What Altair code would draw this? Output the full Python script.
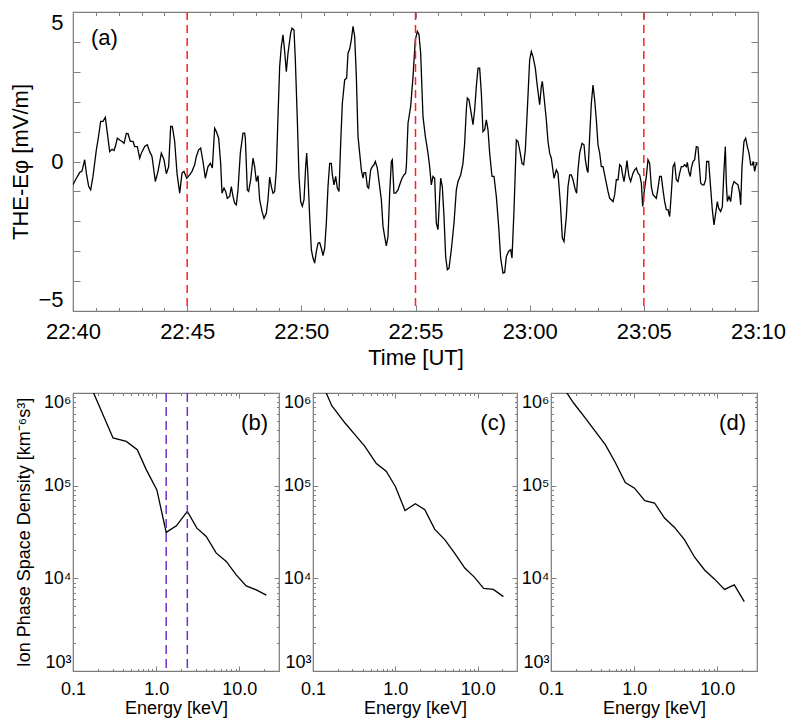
import json
import altair as alt
import pandas as pd

# ---------------- Panel (a): THE E-phi time series ----------------
# time in minutes after 22:40 UT
time_min = [
    0.000, 0.146, 0.292, 0.394, 0.511, 0.584, 0.686, 0.774, 0.876, 1.022, 1.095, 1.212, 1.314, 1.416, 1.504,
    1.606, 1.708, 1.796, 1.854, 1.942, 2.044, 2.146, 2.234, 2.336, 2.409, 2.511, 2.628, 2.701, 2.818, 2.920,
    2.993, 3.139, 3.255, 3.358, 3.460, 3.606, 3.723, 3.869, 3.985, 4.088, 4.190, 4.277, 4.350, 4.453, 4.555,
    4.672, 4.774, 4.861, 4.978, 5.109, 5.212, 5.328, 5.401, 5.504, 5.591, 5.693, 5.796, 5.912, 6.015, 6.102,
    6.204, 6.277, 6.380, 6.467, 6.526, 6.613, 6.686, 6.759, 6.861, 6.934, 7.007, 7.080, 7.153, 7.226, 7.328,
    7.445, 7.518, 7.547, 7.635, 7.693, 7.781, 7.883, 7.956, 8.029, 8.102, 8.175, 8.277, 8.365, 8.467, 8.540,
    8.613, 8.686, 8.759, 8.832, 8.905, 8.978, 9.051, 9.124, 9.197, 9.270, 9.343, 9.416, 9.533, 9.591, 9.679,
    9.737, 9.825, 9.898, 9.971, 10.044, 10.117, 10.190, 10.234, 10.292, 10.365, 10.438, 10.511, 10.584, 10.657,
    10.730, 10.803, 10.876, 10.949, 11.022, 11.095, 11.168, 11.241, 11.314, 11.358, 11.431, 11.504, 11.577,
    11.650, 11.723, 11.796, 11.898, 11.985, 12.044, 12.117, 12.190, 12.263, 12.336, 12.409, 12.482, 12.555,
    12.628, 12.701, 12.745, 12.818, 12.891, 12.949, 13.036, 13.109, 13.182, 13.241, 13.328, 13.431, 13.504,
    13.577, 13.650, 13.723, 13.796, 13.869, 13.942, 13.985, 14.058, 14.131, 14.234, 14.307, 14.409, 14.496,
    14.569, 14.599, 14.672, 14.788, 14.891, 14.993, 15.080, 15.153, 15.226, 15.328, 15.431, 15.547, 15.620,
    15.693, 15.766, 15.839, 15.912, 15.985, 16.058, 16.102, 16.175, 16.248, 16.321, 16.394, 16.467, 16.569,
    16.686, 16.788, 16.861, 16.978, 17.080, 17.153, 17.226, 17.270, 17.343, 17.416, 17.518, 17.591, 17.664,
    17.737, 17.810, 17.883, 17.956, 18.029, 18.102, 18.175, 18.248, 18.350, 18.438, 18.540, 18.642, 18.730,
    18.832, 18.905, 18.978, 19.080, 19.168, 19.226, 19.314, 19.416, 19.489, 19.562, 19.664, 19.737, 19.810,
    19.898, 20.000, 20.073, 20.146, 20.248, 20.336, 20.438, 20.511, 20.555, 20.628, 20.730, 20.803, 20.876,
    20.949, 21.066, 21.168, 21.241, 21.343, 21.431, 21.504, 21.606, 21.679, 21.752, 21.825, 21.898, 22.000,
    22.058, 22.117, 22.190, 22.292, 22.380, 22.438, 22.511, 22.555, 22.628, 22.701, 22.774, 22.847, 22.920,
    22.993, 23.066, 23.139, 23.212, 23.285, 23.358, 23.431, 23.504, 23.577, 23.650, 23.723, 23.796, 23.869,
    23.942, 24.015, 24.058, 24.131, 24.190, 24.263, 24.307, 24.350, 24.423, 24.526, 24.599, 24.672, 24.745,
    24.818, 24.891, 24.949, 25.007, 25.109, 25.182, 25.255, 25.328, 25.401, 25.474, 25.547, 25.620, 25.693,
    25.766, 25.839, 25.912, 25.985, 26.058, 26.131, 26.204, 26.277, 26.350, 26.423, 26.496, 26.569, 26.642,
    26.715, 26.788, 26.861, 26.905, 26.964, 27.036, 27.080, 27.153, 27.226, 27.299, 27.372, 27.416, 27.489,
    27.562, 27.635, 27.708, 27.752, 27.839, 27.927, 28.000, 28.073, 28.146, 28.219, 28.277, 28.365, 28.438,
    28.511, 28.569, 28.613, 28.657, 28.730, 28.803, 28.876, 28.949, 29.022, 29.124, 29.197, 29.241, 29.299,
    29.387, 29.460, 29.533, 29.606, 29.679, 29.752, 29.796, 29.854, 29.927, 29.971,
]
e_phi = [
    -0.78, -0.56, -0.37, -0.32, 0.06, -0.39, -0.83, -0.95, -0.50, 0.39, 0.72, 1.34, 1.34, 1.48, 0.95,
    0.33, 0.41, 0.37, 0.50, 0.78, 0.72, 0.67, 0.61, 0.94, 0.93, 0.67, 0.67, 0.50, 0.50, 0.11,
    0.28, 0.50, 0.56, 0.33, 0.17, -0.67, -0.33, 0.28, 0.06, -0.41, -0.17, 1.17, 1.17, 0.67, -0.39,
    -1.06, -0.39, -0.33, -0.56, -0.45, -0.33, -0.11, 0.17, 0.39, 0.45, 0.00, -0.56, -0.17, -0.06, -0.22,
    1.11, 1.00, 0.78, -0.06, -1.06, -0.89, -1.00, -1.23, -1.17, -0.84, -1.17, -1.39, -1.45, -0.95, 0.28,
    0.95, 0.95, 0.78, -0.95, -1.00, -0.61, 0.11, -0.17, -0.67, -0.47, -1.28, -1.67, -1.90, -1.73, -1.28,
    -0.52, -0.84, -1.06, -1.00, -0.28, 1.50, 3.18, 3.85, 4.24, 3.68, 3.00, 3.62, 4.29, 4.46, 4.40,
    3.40, 1.39, -0.50, -1.34, -1.50, -1.28, -0.17, 0.28, -0.50, -1.84, -2.95, -3.23, -3.40, -3.01,
    -2.73, -2.71, -2.90, -3.15, -2.90, -2.06, -0.84, -0.06, -0.06, -0.45, -0.78, -0.50, -0.89,
    -1.00, 0.61, 1.95, 2.73, 2.79, 3.62, 3.76, 4.07, 4.52, 4.18, 2.84, 0.84, 0.28,
    -0.28, -0.56, -0.37, -0.37, -0.84, -0.89, -0.28, -0.17, -0.11, 0.00, -0.22, -0.84, -1.28,
    -2.17, -2.51, -2.82, -2.51, -1.06, 0.00, 0.06, -1.06, -1.06, -0.95, -0.78, -0.56, -0.45,
    -0.39, -0.17, 1.28, 1.84, 2.84, 4.07, 4.35, 4.24, 3.62, 1.50, 0.84, 0.28, -0.17,
    -0.78, -0.50, -0.56, -2.06, -2.28, -1.17, -0.56, -0.84, -1.84, -3.18, -3.62, -3.57, -2.95,
    -2.06, -0.95, -0.67, -0.45, -0.06, 0.61, 1.73, 2.12, 2.06, 1.73, 1.23, 1.73, 2.51,
    3.12, 3.12, 2.29, 1.00, 1.06, 1.39, 1.06, 0.28, -0.50, -0.50, -1.17, -2.17, -3.23,
    -3.73, -3.71, -3.18, -3.00, -2.95, -3.23, -1.62, 0.72, 0.67, 0.39, -0.06, -0.11, 0.39,
    1.73, 3.40, 3.68, 3.51, 3.12, 2.51, 1.90, 2.51, 2.68, 2.17, 1.39, 0.67, 0.28,
    0.11, -0.56, -0.28, -0.39, -1.39, -2.56, -2.68, -1.84, -0.84, -0.45, -0.45, -0.61, -0.95,
    -1.06, -0.28, 0.28, 0.61, 0.56, 0.06, -0.28, -0.37, 0.84, 1.95, 2.56, 2.06, 1.39,
    0.56, 0.28, -0.17, -0.17, -0.45, -0.72, -1.00, -1.23, -1.28, -1.34, -1.11, -0.61, -0.61,
    -0.11, -0.17, -0.39, -0.67, -0.39, 0.03, -0.28, -0.50, -0.67, -0.39, -0.28, -0.22, -0.39,
    -0.45, -0.72, -1.50, -1.06, -0.50, 0.06, -0.06, -0.84, -1.11, -1.17, -1.23, -0.89, -0.50,
    -0.50, -0.95, -1.34, -1.61, -1.61, -1.84, -1.06, -0.17, -0.06, -0.61, -0.67, -0.39, -0.17,
    -0.17, -0.11, -0.17, -0.03, -0.33, -0.50, -0.22, 0.00, 0.06, 0.50, 0.48, 0.00, -0.72,
    -0.78, -0.78, -0.61, 0.00, 0.00, -0.89, -1.62, -2.12, -1.73, -1.34, -1.56, -1.67, -1.51,
    -0.28, 0.50, -0.72, -1.34, -1.17, -1.34, -0.84, -0.67, -0.72, -0.78, -1.06, -1.45, -0.17,
    0.67, 0.78, 0.50, 0.28, -0.11, -0.11, 0.00, -0.33, -0.06, -0.11,
]
event_min = [5, 15, 25]                       # red dashed markers (22:45, 22:55, 23:05)
time_tick_min = [0, 5, 10, 15, 20, 25, 30]
time_tick_labels = ["22:40", "22:45", "22:50", "22:55", "23:00", "23:05", "23:10"]
minute_ticks = list(range(0, 31))
ephi_ticks = list(range(-5, 6))

# ---------------- Panels (b)-(d): ion phase space density ----------------
energy_b = [0.137, 0.303, 0.437, 0.593, 0.760, 1.02, 1.32, 1.75, 2.37, 3.09, 4.00, 5.28, 6.97, 9.18, 12.1, 16.0, 21.1]
psd_b = [1.7e6, 3.27e5, 3.0e5, 2.44e5, 1.49e5, 9.0e4, 3.13e4, 3.69e4, 5.27e4, 3.48e4, 2.83e4, 1.87e4, 1.52e4, 1.09e4, 8.3e3, 7.5e3, 6.6e3]
markers_b = [1.32, 2.37]

energy_c = [0.130, 0.169, 0.245, 0.323, 0.426, 0.588, 0.774, 1.00, 1.31, 1.75, 2.28, 3.00, 4.00, 5.24, 6.97, 9.10, 11.8, 15.5, 20.5]
psd_c = [1.25e6, 7.3e5, 4.74e5, 3.55e5, 2.66e5, 1.73e5, 1.43e5, 9.8e4, 5.4e4, 6.37e4, 5.5e4, 3.4e4, 2.6e4, 1.87e4, 1.29e4, 1.03e4, 7.8e3, 7.6e3, 6.35e3]

energy_d = [0.140, 0.187, 0.259, 0.341, 0.450, 0.593, 0.782, 1.01, 1.34, 1.76, 2.32, 3.06, 4.04, 5.33, 7.03, 9.27, 12.2, 16.0, 21.1]
psd_d = [1.15e6, 7.8e5, 5.37e5, 3.86e5, 2.77e5, 1.78e5, 1.08e5, 9.4e4, 6.9e4, 6.5e4, 4.47e4, 3.54e4, 2.6e4, 1.69e4, 1.23e4, 9.8e3, 7.6e3, 8.5e3, 5.6e3]

energy_major = [0.1, 1, 10]
energy_minor = [0.2, 0.3, 0.4, 0.5, 0.6, 0.7, 0.8, 0.9, 2, 3, 4, 5, 6, 7, 8, 9, 20]
psd_major = [1e3, 1e4, 1e5, 1e6]
psd_minor = [m * d for d in (1e3, 1e4, 1e5) for m in range(2, 10)]
psd_tick_labels = ["10³", "10⁴", "10⁵", "10⁶"]

FONT = "Liberation Sans"
TICK = "#808080"
RED = "#ff1f1f"
PURPLE = "#6f2fcc"


def axis(orient, values, size, **kw):
    opts = dict(orient=orient, values=values, tickSize=size, offset=-size, domain=False,
                grid=False, ticks=True, tickColor=TICK, tickWidth=1, labels=False,
                minExtent=0)
    opts.update(kw)
    return alt.Axis(**opts)


# ---------------- top panel ----------------
top_df = pd.DataFrame({"t": time_min, "v": e_phi})
tx = alt.Scale(domain=[0, 30], nice=False, zero=False)
ty = alt.Scale(domain=[-5, 5], nice=False, zero=False)
time_label_expr = json.dumps(time_tick_labels, ensure_ascii=False) + "[round(datum.value / 5)]"

top_line = alt.Chart(top_df).mark_line(color="black", strokeWidth=1.3, clip=True).encode(
    x=alt.X("t:Q", scale=tx, title="Time [UT]",
            axis=axis("bottom", time_tick_min, 6, labels=True, labelExpr=time_label_expr,
                      labelFontSize=22, labelPadding=10, labelFlush=False, labelOverlap=False,
                      titleFontSize=22, titlePadding=5)),
    y=alt.Y("v:Q", scale=ty, title="THE-Eφ [mV/m]",
            axis=axis("left", ephi_ticks, 7, labels=True,
                      labelExpr="datum.value % 5 == 0 ? datum.label : ''",
                      labelFontSize=22, labelPadding=10, labelFlush=True, labelOverlap=False,
                      titleFontSize=22, titlePadding=5)),
)
top_minor = alt.Chart(top_df).mark_point(opacity=0, clip=True).encode(
    x=alt.X("t:Q", scale=tx, title=None, axis=axis("bottom", minute_ticks, 3.5)),
    y=alt.Y("v:Q", scale=ty, title=None, axis=axis("right", ephi_ticks, 7)),
)
top_top_major = alt.Chart(top_df).mark_point(opacity=0, clip=True).encode(
    x=alt.X("t:Q", scale=tx, title=None, axis=axis("top", time_tick_min, 6)),
    y=alt.Y("v:Q", scale=ty, axis=None),
)
top_top_minor = alt.Chart(top_df).mark_point(opacity=0, clip=True).encode(
    x=alt.X("t:Q", scale=tx, title=None, axis=axis("top", minute_ticks, 3.5)),
    y=alt.Y("v:Q", scale=ty, axis=None),
)
top_events = alt.Chart(pd.DataFrame({"t": event_min})).mark_rule(
    color=RED, strokeDash=[8, 5], strokeWidth=1.5
).encode(x=alt.X("t:Q", scale=tx, axis=None))
top_label = alt.Chart(pd.DataFrame({"lab": ["(a)"]})).mark_text(
    align="left", baseline="middle", fontSize=22, font=FONT, color="black"
).encode(text="lab:N", x=alt.value(18), y=alt.value(26))

top = alt.layer(top_line, top_minor, top_top_major, top_top_minor, top_events, top_label).resolve_axis(
    x="independent", y="independent"
).properties(width=685, height=299)

# ---------------- bottom panels ----------------
ex = alt.Scale(type="log", domain=[0.1, 30], nice=False)
fy = alt.Scale(type="log", domain=[1e3, 1e6], nice=False)
psd_label_expr = json.dumps(psd_tick_labels, ensure_ascii=False) + "[round(log(datum.value) / LN10) - 3]"


def psd_panel(energy, psd, label, width, show_title, markers=None):
    df = pd.DataFrame({"E": energy, "f": psd})
    ytitle = "Ion Phase Space Density [km⁻⁶s³]" if show_title else None
    line = alt.Chart(df).mark_line(color="black", strokeWidth=1.3, clip=True).encode(
        x=alt.X("E:Q", scale=ex, title="Energy [keV]",
                axis=axis("bottom", energy_major, 5, labels=True, format=".1f",
                          labelFontSize=18, labelPadding=9, labelFlush=False, labelOverlap=False,
                          titleFontSize=18, titlePadding=1)),
        y=alt.Y("f:Q", scale=fy, title=ytitle,
                axis=axis("left", psd_major, 5, labels=True, labelExpr=psd_label_expr,
                          labelFontSize=18, labelPadding=2, labelFlush=True, labelOverlap=False,
                          titleFontSize=18, titlePadding=10)),
    )
    minor = alt.Chart(df).mark_point(opacity=0, clip=True).encode(
        x=alt.X("E:Q", scale=ex, title=None, axis=axis("bottom", energy_minor, 2.5)),
        y=alt.Y("f:Q", scale=fy, title=None, axis=axis("left", psd_minor, 2.5)),
    )
    opp_major = alt.Chart(df).mark_point(opacity=0, clip=True).encode(
        x=alt.X("E:Q", scale=ex, title=None, axis=axis("top", energy_major, 5)),
        y=alt.Y("f:Q", scale=fy, title=None, axis=axis("right", psd_major, 5)),
    )
    opp_minor = alt.Chart(df).mark_point(opacity=0, clip=True).encode(
        x=alt.X("E:Q", scale=ex, title=None, axis=axis("top", energy_minor, 2.5)),
        y=alt.Y("f:Q", scale=fy, title=None, axis=axis("right", psd_minor, 2.5)),
    )
    layers = [line, minor, opp_major, opp_minor]
    if markers:
        layers.append(
            alt.Chart(pd.DataFrame({"E": markers})).mark_rule(
                color=PURPLE, strokeDash=[9, 5], strokeWidth=1.5
            ).encode(x=alt.X("E:Q", scale=ex, axis=None))
        )
    layers.append(
        alt.Chart(pd.DataFrame({"lab": [label]})).mark_text(
            align="right", baseline="middle", fontSize=22, font=FONT, color="black"
        ).encode(text="lab:N", x=alt.value(width - 11), y=alt.value(30))
    )
    return alt.layer(*layers).resolve_axis(x="independent", y="independent").properties(
        width=width, height=278
    )


pb = psd_panel(energy_b, psd_b, "(b)", 206, True, markers_b)
pc = psd_panel(energy_c, psd_c, "(c)", 204, False)
pd_ = psd_panel(energy_d, psd_d, "(d)", 206, False)

bottom = alt.hconcat(pb, pc, pd_, spacing=34, bounds="flush")

chart = alt.vconcat(top, bottom, spacing=82, bounds="flush").properties(
    padding={"left": 1, "top": 2, "right": 0, "bottom": 0}
).configure_view(
    stroke="#7a7a7a", strokeWidth=1.2
).configure_axis(
    labelFont=FONT, titleFont=FONT, labelColor="black", titleColor="black", titleFontWeight="normal"
).configure_text(font=FONT)

chart.save("out.html", embed_options={"renderer": "svg", "actions": False})
